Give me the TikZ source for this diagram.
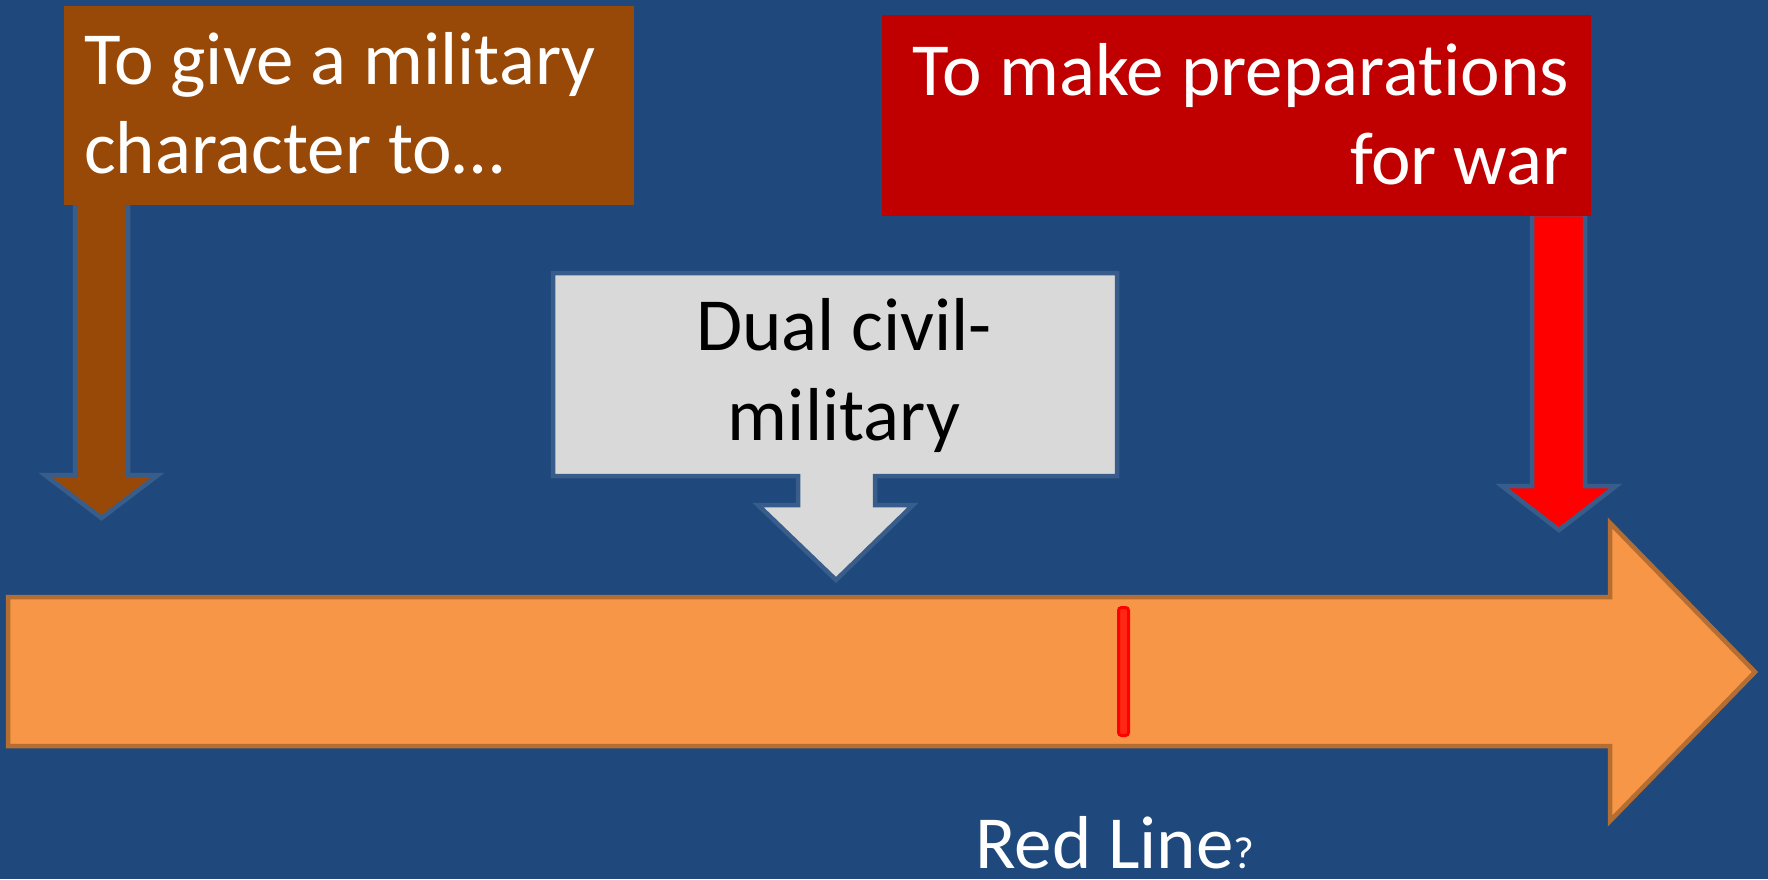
\documentclass[tikz,border=0pt]{standalone}
\usepackage{fontspec}
\setmainfont{Carlito}[RawFeature={-liga;-clig;-dlig}]
\definecolor{bgblue}{RGB}{31,73,125}
\definecolor{outblue}{RGB}{56,93,138}
\definecolor{brownfill}{RGB}{152,72,7}
\definecolor{darkred}{RGB}{192,0,0}
\definecolor{grayfill}{RGB}{217,217,217}
\definecolor{orangefill}{RGB}{247,150,70}
\definecolor{orangeline}{RGB}{182,109,49}
\definecolor{markred}{RGB}{255,40,20}
\tikzset{
  wtext/.style={text=white, inner sep=0pt, font=\fontsize{75}{90}\selectfont},
  btext/.style={text=black, inner sep=0pt, font=\fontsize{75}{90}\selectfont},
  blockarrow/.style={draw=outblue, line width=4.5pt},
  flatbox/.style={inner sep=0pt, draw=none},
}
\begin{document}
\begin{tikzpicture}[x=1pt,y=-1pt]
\fill[bgblue] (0,0) rectangle (1768,879);
\useasboundingbox (0,0) rectangle (1768,879);

% timeline arrow
\filldraw[fill=orangefill, draw=orangeline, line width=4.5pt]
  (8,597) -- (1610,597) -- (1610,523) -- (1755,672) -- (1610,821) -- (1610,746) -- (8,746) -- cycle;
\node[flatbox, fill=markred, draw=red, line width=3pt, rounded corners=3pt,
      minimum width=10pt, minimum height=128pt] (redline) at (1123.5,671.5) {};

% brown arrow
\filldraw[blockarrow, fill=brownfill]
  (75,203) -- (128,203) -- (128,475) -- (158,475) -- (101.5,518) -- (45,475) -- (75,475) -- cycle;
% red arrow
\filldraw[blockarrow, fill=red]
  (1532,214) -- (1585,214) -- (1585,486) -- (1616,486) -- (1559,530) -- (1502,486) -- (1532,486) -- cycle;

% gray callout
\filldraw[blockarrow, fill=grayfill]
  (553,273) -- (1117,273) -- (1117,476) -- (875,476) -- (875,505) -- (913,505) -- (836,580)
  -- (758,505) -- (798,505) -- (798,476) -- (553,476) -- cycle;
\node[btext, anchor=base] (dual1) at (844,350) {Dual civil-};
\node[btext, anchor=base] (dual2) at (844,440) {military};

% brown box
\node[flatbox, fill=brownfill, anchor=north west, minimum width=570pt, minimum height=199pt] (givebox) at (64,6) {};
\node[wtext, anchor=base west] (give1) at (84,84) {To give a military};
\node[wtext, anchor=base west] (give2) at (84,173.5) {character to…};

% red box
\node[flatbox, fill=darkred, anchor=north west, minimum width=709pt, minimum height=201pt] (warbox) at (882,15) {};
\node[wtext, anchor=base east] (war1) at (1569,95) {To make preparat\kern0pt ions};
\node[wtext, anchor=base east] (war2) at (1569,184) {for war};

% label
\node[wtext, anchor=base west] (redlabel) at (975,868) {Red Line{\fontsize{45}{54}\selectfont ?}};
\end{tikzpicture}
\end{document}
